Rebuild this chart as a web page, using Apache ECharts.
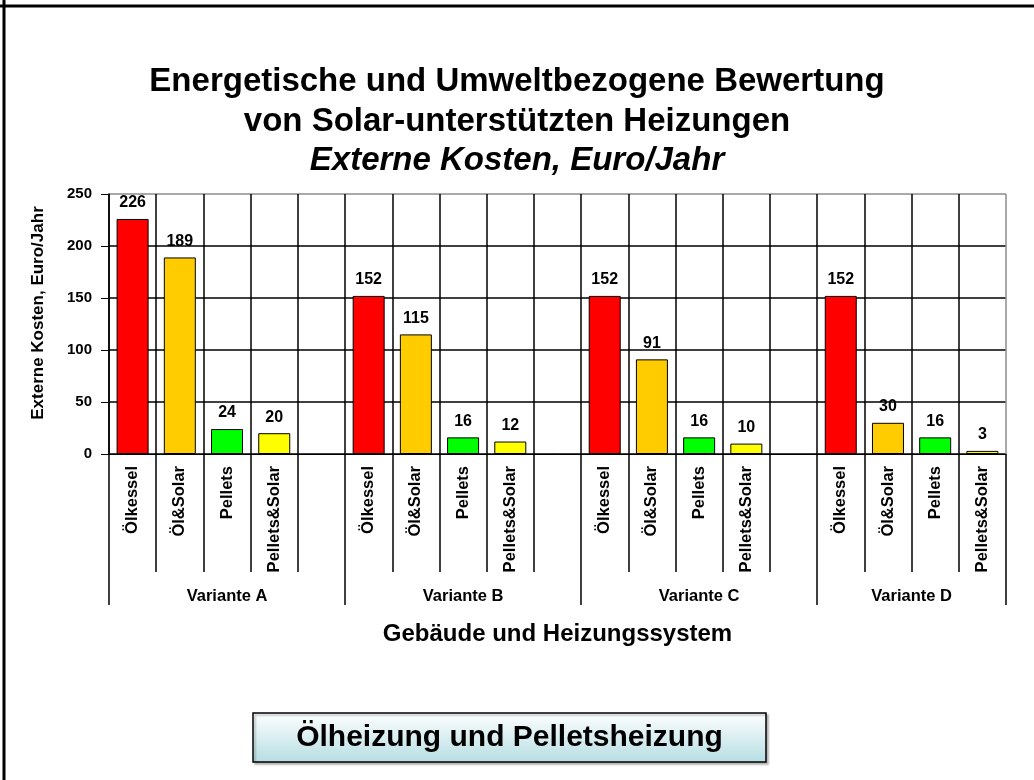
<!DOCTYPE html>
<html>
<head>
<meta charset="utf-8">
<script src="https://cdn.jsdelivr.net/npm/echarts@6/dist/echarts.min.js"></script>
<style>
html,body{margin:0;padding:0;background:#fff;}
#chart{width:1034px;height:780px;}
</style>
</head>
<body>
<div id="chart"></div>
<script>
// ---- data ----
const categories = [
  'Ölkessel','Öl&Solar','Pellets','Pellets&Solar','',
  'Ölkessel','Öl&Solar','Pellets','Pellets&Solar','',
  'Ölkessel','Öl&Solar','Pellets','Pellets&Solar','',
  'Ölkessel','Öl&Solar','Pellets','Pellets&Solar'
];
const values = [
  226, 189, 24, 20, null,
  152, 115, 16, 12, null,
  152, 91, 16, 10, null,
  152, 30, 16, 3
];
const groupNames = ['Variante A','Variante B','Variante C','Variante D'];
const groupSizes = [5, 5, 5, 4];
const typeColors = {
  'Ölkessel': '#FF0000',
  'Öl&Solar': '#FFCC00',
  'Pellets': '#00FF00',
  'Pellets&Solar': '#FFFF00'
};
const yTicks = [0, 50, 100, 150, 200, 250];
const titleLines = ['Energetische und Umweltbezogene Bewertung', 'von Solar-unterstützten Heizungen', 'Externe Kosten, Euro/Jahr'];
const yName = 'Externe Kosten, Euro/Jahr';
const xName = 'Gebäude und Heizungssystem';
const boxText = 'Ölheizung und Pelletsheizung';

// ---- derived ----
const bounds = [0];
groupSizes.forEach(s => bounds.push(bounds[bounds.length - 1] + s));
const groupCenters = groupNames.map((g, i) => bounds[i] + groupSizes[i] / 2);
const nCat = categories.length;
const xSplitColors = [];
for (let i = 0; i <= nCat; i++) xSplitColors.push(i === nCat ? '#8c8c8c' : '#000');
const ySplitColors = yTicks.map((t, i) => i === yTicks.length - 1 ? '#8c8c8c' : '#000');

const FONT = 'Liberation Sans, Arial, sans-serif';
const titleStyle = { fontFamily: FONT, fontWeight: 'bold', fontSize: 33, color: '#000' };
const chart = echarts.init(document.getElementById('chart'));
chart.setOption({
  animation: false,
  backgroundColor: '#fff',
  title: [
    { text: titleLines[0], left: 'center', top: 60, textStyle: titleStyle },
    { text: titleLines[1], left: 'center', top: 100, textStyle: titleStyle },
    { text: titleLines[2], left: 'center', top: 139, textStyle: Object.assign({}, titleStyle, { fontStyle: 'italic' }) }
  ],
  grid: { left: 109, right: 28, top: 194, bottom: 326, containLabel: false },
  xAxis: [
    {
      type: 'category',
      data: categories,
      name: xName,
      nameLocation: 'middle',
      nameGap: 168,
      nameTextStyle: { fontFamily: FONT, fontWeight: 'bold', fontSize: 24, color: '#000' },
      axisLine: { show: true, lineStyle: { color: '#000', width: 1 } },
      axisTick: { show: true, interval: 0, length: 118, lineStyle: { color: '#000', width: 1.5 } },
      axisLabel: { interval: 0, rotate: 90, margin: 12, fontFamily: FONT, fontWeight: 'bold', fontSize: 16.5, color: '#000' },
      splitLine: { show: true, interval: 0, lineStyle: { color: xSplitColors, width: 1.5 } }
    },
    {
      type: 'value',
      min: 0,
      max: nCat,
      position: 'bottom',
      axisLine: { show: false },
      splitLine: { show: false },
      axisTick: { show: true, customValues: bounds, length: 151, lineStyle: { color: '#000', width: 1.5 } },
      axisLabel: {
        customValues: groupCenters,
        margin: 134,
        fontFamily: FONT, fontWeight: 'bold', fontSize: 16.5, color: '#000',
        formatter: v => groupNames[groupCenters.indexOf(v)] || ''
      }
    }
  ],
  yAxis: {
    type: 'value',
    min: 0,
    max: 250,
    interval: 50,
    name: yName,
    nameLocation: 'middle',
    nameGap: 62,
    nameRotate: 90,
    nameTextStyle: { fontFamily: FONT, fontWeight: 'bold', fontSize: 17, color: '#000', padding: [0, 0, 0, 22] },
    axisLine: { show: true, lineStyle: { color: '#000', width: 1.5 } },
    axisTick: { show: true, length: 8, lineStyle: { color: '#000' } },
    axisLabel: { margin: 17, fontFamily: FONT, fontWeight: 'bold', fontSize: 15, color: '#000' },
    splitLine: { show: true, lineStyle: { color: ySplitColors, width: 1.5 } }
  },
  series: [{
    type: 'bar',
    xAxisIndex: 0,
    barWidth: 32,
    data: values.map((v, i) => ({
      value: v,
      itemStyle: { color: typeColors[categories[i]] || '#fff', borderColor: '#000', borderWidth: 1 }
    })),
    label: {
      show: true, position: 'top', distance: 8,
      fontFamily: FONT, fontWeight: 'bold', fontSize: 16, color: '#000',
      formatter: p => (p.value == null ? '' : String(p.value))
    }
  }],
  graphic: [
    { type: 'line', shape: { x1: 4, y1: 0, x2: 4, y2: 780 }, style: { stroke: '#000', lineWidth: 3 } },
    { type: 'line', shape: { x1: 0, y1: 6, x2: 1034, y2: 6 }, style: { stroke: '#000', lineWidth: 3 } },
    {
      type: 'group',
      children: [
        {
          type: 'rect',
          shape: { x: 253, y: 713, width: 513, height: 49 },
          style: {
            fill: { type: 'linear', x: 0, y: 0, x2: 0, y2: 1, colorStops: [{ offset: 0, color: '#ffffff' }, { offset: 1, color: '#b5dde2' }] },
            stroke: '#000', lineWidth: 1.5,
            shadowBlur: 2, shadowOffsetX: 2, shadowOffsetY: 2, shadowColor: 'rgba(0,0,0,0.25)'
          }
        },
        {
          type: 'text',
          x: 509.5, y: 738,
          style: { text: boxText, fill: '#000', font: 'bold 30px ' + FONT, align: 'center', verticalAlign: 'middle' }
        }
      ]
    }
  ]
});
</script>
</body>
</html>
